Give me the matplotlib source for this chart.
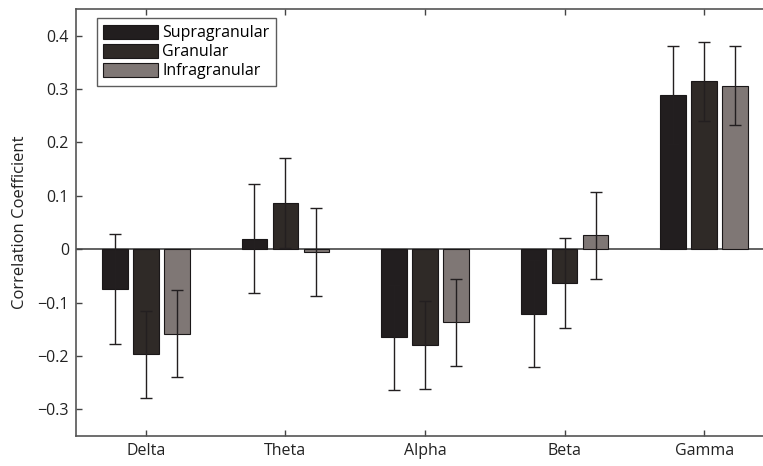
import numpy as np
import matplotlib.pyplot as plt

plt.rcParams['font.family'] = ['Open Sans', 'DejaVu Sans']

bands = ['Delta', 'Theta', 'Alpha', 'Beta', 'Gamma']
layers = ['Supragranular', 'Granular', 'Infragranular']

supra = [-0.074, 0.020, -0.165, -0.121, 0.289]
supra_err = [0.103, 0.103, 0.098, 0.100, 0.092]
gran = [-0.197, 0.086, -0.180, -0.063, 0.315]
gran_err = [0.081, 0.084, 0.082, 0.084, 0.074]
infra = [-0.158, -0.005, -0.137, 0.026, 0.306]
infra_err = [0.081, 0.083, 0.082, 0.082, 0.074]

yticks = [-0.3, -0.2, -0.1, 0, 0.1, 0.2, 0.3, 0.4]
ytick_labels = ['\u22120.3', '\u22120.2', '\u22120.1', '0', '0.1', '0.2', '0.3', '0.4']

colors = ['#221e1f', '#2f2a27', '#7f7775']
dark = '#231f20'

fig = plt.figure(figsize=(7.63, 4.66), dpi=100)
ax = fig.add_axes([0.0996, 0.0644, 0.9148, 0.9163])

x = np.arange(1, len(bands) + 1)
offsets = [-0.222, 0.0, 0.222]
w = 0.183
series = [(supra, supra_err), (gran, gran_err), (infra, infra_err)]

for (vals, errs), off, col, lab in zip(series, offsets, colors, layers):
    ax.bar(x + off, vals, width=w, color=col, edgecolor='#1a1718',
           linewidth=0.8, label=lab, zorder=2)
    ax.errorbar(x + off, vals, yerr=errs, fmt='none', ecolor=dark,
                elinewidth=1.0, capsize=4.5, capthick=1.0, zorder=3)

ax.axhline(0, color='#555555', lw=1.3, zorder=1)

ax.set_xlim(0.5, 5.5)
ax.set_ylim(-0.35, 0.45)
ax.set_xticks(x)
ax.set_xticklabels(bands, fontsize=11.5, color='#222222')
ax.set_yticks(yticks)
ax.set_yticklabels(ytick_labels, fontsize=11.5, color='#222222')
ax.tick_params(direction='in', length=4, width=1, color='#444444',
               top=True, right=True, pad=5)
for s in ax.spines.values():
    s.set_color('#555555')
    s.set_linewidth(1.2)

ax.set_ylabel('Correlation Coefficient', fontsize=12, color='#222222', labelpad=7)

leg = ax.legend(loc='upper left', bbox_to_anchor=(0.03, 0.978), fontsize=11.5,
                frameon=True, fancybox=False, edgecolor='#333333',
                handlelength=3.4, handleheight=1.0, handletextpad=0.3,
                labelspacing=0.15, borderpad=0.4, borderaxespad=0)
leg.get_frame().set_linewidth(1.0)

fig.savefig('out.png', dpi=100)
